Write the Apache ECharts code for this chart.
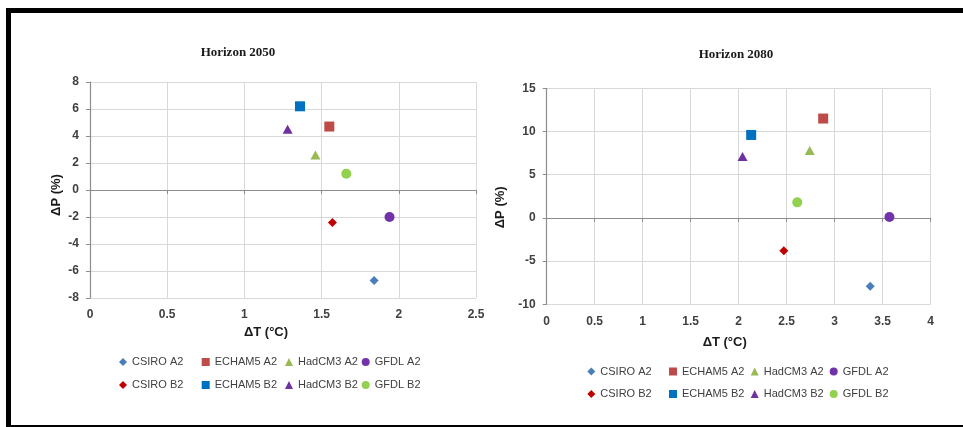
<!DOCTYPE html>
<html>
<head>
<meta charset="utf-8">
<script src="https://cdn.jsdelivr.net/npm/echarts@6/dist/echarts.min.js"></script>
<style>
html,body{margin:0;padding:0;background:#fff;}
#c{width:963px;height:427px;}
</style>
</head>
<body>
<div id="c"></div>
<script>
// ---- data ----
const models = ['CSIRO A2','ECHAM5 A2','HadCM3 A2','GFDL A2','CSIRO B2','ECHAM5 B2','HadCM3 B2','GFDL B2'];
const dT2050 = [1.84, 1.55, 1.46, 1.94, 1.57, 1.36, 1.28, 1.66];
const dP2050 = [-6.7, 4.7, 2.6, -2.0, -2.4, 6.2, 4.5, 1.2];
const dT2080 = [3.37, 2.88, 2.74, 3.57, 2.47, 2.13, 2.04, 2.61];
const dP2080 = [-7.9, 11.5, 7.8, 0.1, -3.8, 9.6, 7.1, 1.8];
const titles = ['Horizon 2050', 'Horizon 2080'];
const xRange2050 = [0, 2.5, 0.5];
const yRange2050 = [-8, 8, 2];
const xRange2080 = [0, 4, 0.5];
const yRange2080 = [-10, 15, 5];

// ---- styles ----
const symbols = ['diamond','rect','triangle','circle','diamond','rect','triangle','circle'];
const symbolSizes = [9, 10, [10, 9], 10, 9, 10, [10, 9], 10];
const colors = ['#4A7EBB','#BE4B48','#98B954','#7232A8','#C00000','#0070C0','#7030A0','#92D050'];
const FONT = '"Liberation Sans", Arial, sans-serif';
const tickColor = '#404040';
const gridColor = '#D9D9D9';
const axisColor = '#8C8C8C';

const charts = [
  {dT: dT2050, dP: dP2050, xr: xRange2050, yr: yRange2050,
   grid: {left: 90, right: 487, top: 82, bottom: 129},
   title: {x: 238, y: 46}, xNameGap: 27, xNamePad: 34, yNameGap: 27, yNamePad: 10,
   legendLeft: [119, 201.7, 285, 361.7], legendTop: [355.5, 378.5]},
  {dT: dT2080, dP: dP2080, xr: xRange2080, yr: yRange2080,
   grid: {left: 546.7, right: 32.3, top: 88.3, bottom: 122.7},
   title: {x: 736, y: 48}, xNameGap: 32, xNamePad: 28, yNameGap: 40, yNamePad: 22,
   legendLeft: [587.3, 669, 750.7, 829.7], legendTop: [365, 387.5]}
];

const option = {
  animation: false,
  backgroundColor: '#fff',
  title: [], grid: [], xAxis: [], yAxis: [], series: [], legend: [],
  graphic: [
    {type: 'rect', shape: {x: 6, y: 8, width: 957, height: 5}, style: {fill: '#000'}},
    {type: 'rect', shape: {x: 6, y: 8, width: 5, height: 419}, style: {fill: '#000'}},
    {type: 'rect', shape: {x: 6, y: 425, width: 957, height: 2}, style: {fill: '#000'}}
  ]
};

charts.forEach((c, ci) => {
  option.title.push({
    text: titles[ci], left: c.title.x, top: c.title.y, textAlign: 'center', padding: 0,
    textStyle: {fontFamily: '"Liberation Serif", "Times New Roman", serif', fontWeight: 'bold', fontSize: 13, color: '#1a1a1a'}
  });
  option.grid.push(Object.assign({containLabel: false}, c.grid));
  // label axis at bottom
  option.xAxis.push({
    type: 'value', gridIndex: ci, position: 'bottom',
    min: c.xr[0], max: c.xr[1], interval: c.xr[2],
    axisLine: {show: false, onZero: false},
    axisTick: {show: false},
    axisLabel: {margin: 11, color: tickColor, fontFamily: FONT, fontWeight: 'bold', fontSize: 12},
    splitLine: {show: true, lineStyle: {color: gridColor, width: 1}},
    name: 'ΔT (°C)', nameLocation: 'middle', nameGap: c.xNameGap,
    nameTextStyle: {fontFamily: FONT, fontWeight: 'bold', fontSize: 13, color: '#1a1a1a', padding: [0, c.xNamePad, 0, 0]}
  });
  // zero line axis with ticks
  option.xAxis.push({
    type: 'value', gridIndex: ci, position: 'bottom',
    min: c.xr[0], max: c.xr[1], interval: c.xr[2],
    axisLine: {show: true, onZero: true, lineStyle: {color: axisColor, width: 1.2}},
    axisTick: {show: true, length: 4, lineStyle: {color: axisColor}},
    axisLabel: {show: false},
    splitLine: {show: false}
  });
  option.yAxis.push({
    type: 'value', gridIndex: ci,
    min: c.yr[0], max: c.yr[1], interval: c.yr[2],
    axisLine: {show: true, onZero: false, lineStyle: {color: axisColor, width: 1.2}},
    axisTick: {show: true, length: 4, lineStyle: {color: axisColor}},
    axisLabel: {margin: 11, color: tickColor, fontFamily: FONT, fontWeight: 'bold', fontSize: 12},
    splitLine: {show: true, lineStyle: {color: gridColor, width: 1}},
    name: 'ΔP (%)', nameLocation: 'middle', nameRotate: 90, nameGap: c.yNameGap,
    nameTextStyle: {fontFamily: FONT, fontWeight: 'bold', fontSize: 13, color: '#1a1a1a', padding: [0, c.yNamePad, 0, 0]}
  });
  models.forEach((m, i) => {
    option.series.push({
      type: 'scatter', name: m, xAxisIndex: ci * 2, yAxisIndex: ci,
      symbol: symbols[i], symbolSize: symbolSizes[i],
      itemStyle: {color: colors[i], opacity: 1},
      data: [[c.dT[i], c.dP[i]]], z: 5
    });
    const row = i < 4 ? 0 : 1, col = i % 4;
    option.legend.push({
      data: [{name: m, icon: symbols[i]}],
      left: c.legendLeft[col], top: c.legendTop[row], padding: 0,
      itemWidth: 8, itemHeight: 8, selectedMode: false,
      textStyle: {fontFamily: FONT, fontSize: 11, color: '#404040', lineHeight: 13}
    });
  });
});

const chart = echarts.init(document.getElementById('c'), null, {renderer: 'canvas'});
chart.setOption(option);
</script>
</body>
</html>
